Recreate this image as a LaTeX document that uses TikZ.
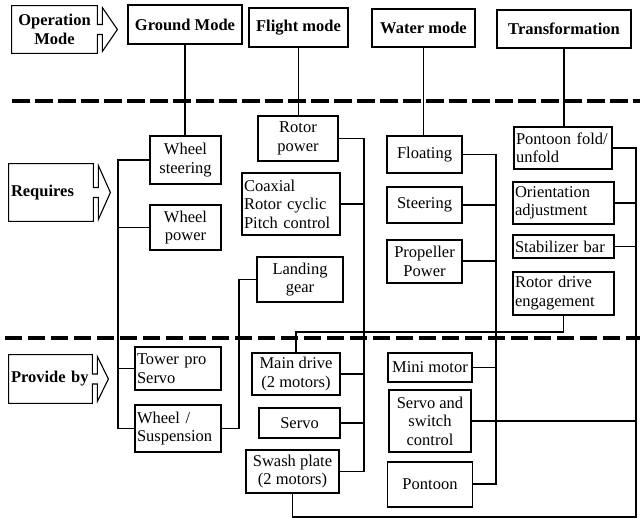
\documentclass[tikz,border=0pt]{standalone}
\usepackage{fontspec}
\setmainfont{Liberation Serif}
\usetikzlibrary{calc, positioning}

\begin{document}
\begin{tikzpicture}[x=1pt, y=-1pt, thick]
        % Define block styles
        \tikzstyle{blk} = [rectangle, draw, line width=1.9pt, fill=white, inner sep=2pt, align=center, font=\fontsize{16.5}{18.5}\selectfont]
        \tikzstyle{lblk} = [blk, align=left]
        \tikzstyle{hdr} = [blk, font=\fontsize{16.5}{18.5}\selectfont\bfseries]
        \tikzstyle{tag} = [inner sep=2pt, align=center, font=\fontsize{16.5}{18.5}\selectfont\bfseries]
        \tikzstyle{tagline} = [draw, line width=1.1pt]
        \tikzstyle{line} = [draw, line width=1.7pt]
        \tikzstyle{sepline} = [draw, line width=3.8pt, dash pattern=on 18pt off 5pt]

        \useasboundingbox (0,0) rectangle (640,518);

        % Separators
        \draw[sepline] (12,101) -- (640,101);
        \draw[sepline, line width=3.2pt, dash pattern=on 17pt off 6pt] (5,338) -- (640,338);

        % Operation modes
        \node[tag, minimum width=85pt, minimum height=47pt] (opm) at (54.5,29.5) {Operation\\Mode};
        \node[hdr, minimum width=114pt, minimum height=39pt] (gnd) at (185,24.5) {Ground Mode};
        \node[hdr, minimum width=99pt, minimum height=39pt] (flt) at (298.5,27.5) {Flight mode};
        \node[hdr, minimum width=103pt, minimum height=38pt] (wat) at (423.5,28) {Water mode};
        \node[hdr, minimum width=134pt, minimum height=38pt] (trf) at (564,29) {Transformation};

        % Requires
        \node[tag, align=left, text width=80pt, minimum height=57pt] (req) at (51,192.5) {Requires};
        \node[blk, minimum width=71pt, minimum height=48pt] (ws) at (185.5,160) {Wheel\\steering};
        \node[blk, minimum width=71pt, minimum height=45pt, below=19pt of ws] (wp) {Wheel\\power};
        \node[blk, minimum width=80pt, minimum height=45pt] (rp) at (298,138.5) {Rotor\\power};
        \node[lblk, text width=94pt, minimum height=62pt] (cx) at (291,204) {Coaxial\\Rotor cyclic\\Pitch control};
        \node[blk, minimum width=86pt, minimum height=45pt] (lg) at (300,279.5) {Landing\\gear};
        \node[blk, minimum width=75pt, minimum height=37pt] (fl) at (424.5,154.5) {Floating};
        \node[blk, minimum width=75pt, minimum height=36pt, below=12pt of fl] (st) {Steering};
        \node[blk, minimum width=75pt, minimum height=43pt, below=15pt of st] (pp) {Propeller\\Power};
        \node[lblk, text width=94pt, minimum height=42pt] (pf) at (563,148) {Pontoon fold/\\unfold};
        \node[lblk, text width=97pt, minimum height=42pt] (oa) at (563.5,203) {Orientation\\adjustment};
        \node[lblk, text width=97pt, minimum height=23pt, below=9pt of oa] (sb) {Stabilizer bar};
        \node[lblk, text width=97pt, minimum height=43pt, below=12pt of sb] (rd) {Rotor drive\\engagement};

        % Provide by
        \node[tag, align=left, text width=79pt, minimum height=48pt] (prv) at (50.5,379) {Provide by};
        \node[lblk, text width=82pt, minimum height=43pt] (tp) at (178,368.5) {Tower pro\\Servo};
        \node[lblk, text width=82pt, minimum height=47pt, below=13pt of tp] (wsus) {Wheel /\\Suspension};
        \node[blk, minimum width=88pt, minimum height=42pt] (md) at (296,374) {Main drive\\(2 motors)};
        \node[blk, minimum width=81pt, minimum height=30pt] (sv) at (299.5,423) {Servo};
        \node[blk, minimum width=93pt, minimum height=43pt] (sw) at (292.5,471.5) {Swash plate\\(2 motors)};
        \node[blk, minimum width=84pt, minimum height=29pt] (mm) at (430,367.5) {Mini motor};
        \node[blk, minimum width=82pt, minimum height=62pt, below=6pt of mm] (ssc) {Servo and\\switch\\control};
        \node[blk, minimum width=85pt, minimum height=45pt, below=8pt of ssc] (pt) {Pontoon};

        % Arrow outlines of the row labels
        \foreach \n/\t in {opm/20,req/17,prv/16}
            \draw[tagline] (\n.north west) -- (\n.north east) -- ($(\n.east)+(0,-5)$) -- ++(5,0)
                -- ($(\n.north east)+(5,2)$) -- ($(\n.east)+(\t,0)$) -- ($(\n.south east)+(5,-2)$)
                -- ($(\n.east)+(5,5)$) -- ($(\n.east)+(0,5)$) -- (\n.south east) -- (\n.south west) -- cycle;

        % Bus lines
        \coordinate (gbus) at (118,0);
        \coordinate (lbus) at (239,0);
        \coordinate (fbus) at (364,0);
        \coordinate (wbus) at (496,0);
        \coordinate (tbus) at (636,0);
        \coordinate (loop) at (0,332);
        \coordinate (bot) at (0,517);

        % Connect nodes with paths
        \draw[line] (gnd.south) -- (gnd.south |- ws.north);
        \draw[line] (flt.south) -- (flt.south |- rp.north);
        \draw[line] (wat.south) -- (wat.south |- fl.north);
        \draw[line] (trf.south) -- (trf.south |- pf.north);

        \draw[line] (ws.west) -- (ws.west -| gbus) |- (wsus.west);
        \foreach \b in {wp,tp} \draw[line] (\b.west) -- (\b.west -| gbus);
        \draw[line] (lg.west) -- (lg.west -| lbus) |- (wsus.east);

        \draw[line] (rp.east) -- (rp.east -| fbus) |- (sw.east);
        \foreach \b in {cx,md,sv} \draw[line] (\b.east) -- (\b.east -| fbus);

        \draw[line] (fl.east) -- (fl.east -| wbus) |- (pt.east);
        \foreach \b in {st,pp,mm} \draw[line] (\b.east) -- (\b.east -| wbus);

        \draw[line] (pf.east) -- (pf.east -| tbus) -- (tbus |- bot) -| (sw.south);
        \foreach \b in {oa,sb,ssc} \draw[line] (\b.east) -- (\b.east -| tbus);
        \draw[line] (rd.south) -- (rd.south |- loop) -| (md.north);

    \end{tikzpicture}
\end{document}
